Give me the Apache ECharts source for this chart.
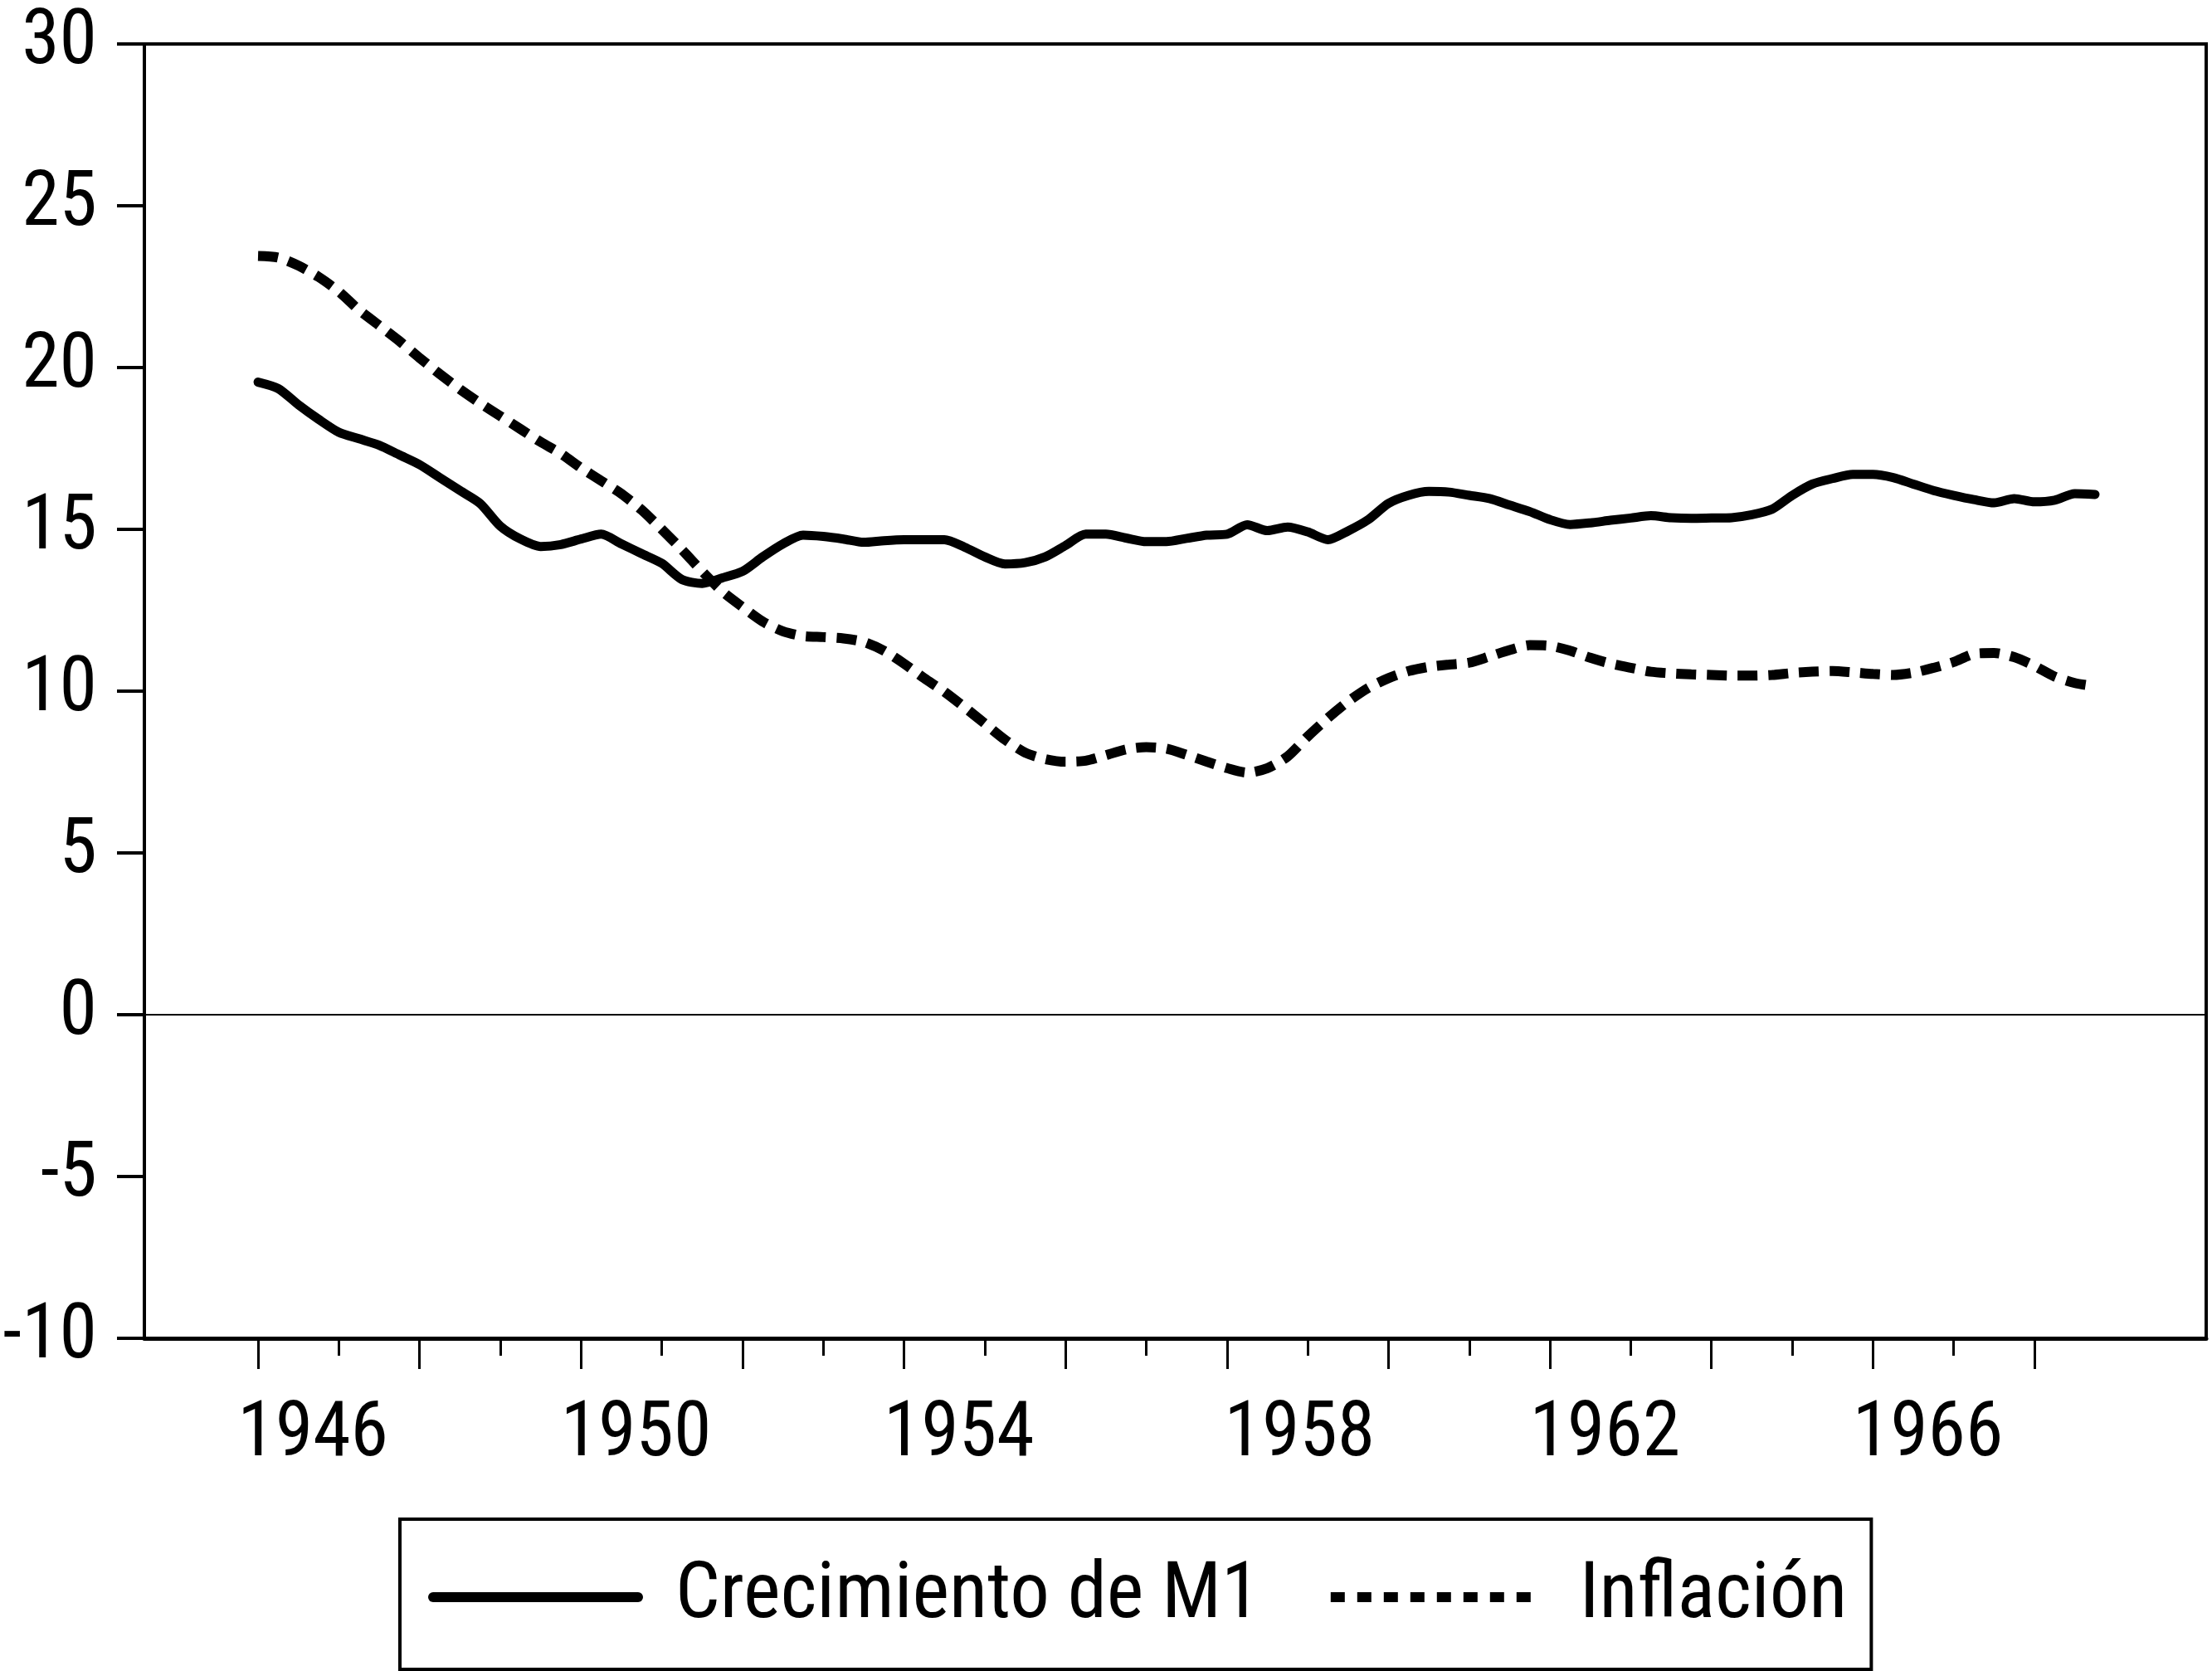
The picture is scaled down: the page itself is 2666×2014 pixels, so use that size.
<!DOCTYPE html>
<html>
<head>
<meta charset="utf-8">
<script src="https://cdn.jsdelivr.net/npm/echarts@6/dist/echarts.min.js"></script>
<style>
html,body{margin:0;padding:0;background:#ffffff;}
#chart{width:2666px;height:2014px;}
</style>
</head>
<body>
<div id="chart"></div>
<script>
// ---------- data (quarterly, 1946Q1 .. 1968Q4) ----------
const firstYear = 1946;
const lastYear = 1968;
const seriesNames = ['Crecimiento de M1', 'Inflación'];

const m1Growth = [
  19.55, 19.35, 18.85, 18.40,
  18.00, 17.80, 17.60, 17.30,
  17.00, 16.60, 16.20, 15.80,
  15.10, 14.70, 14.47, 14.53,
  14.70, 14.85, 14.55, 14.25,
  13.95, 13.45, 13.33, 13.50,
  13.70, 14.15, 14.55, 14.82,
  14.78, 14.70, 14.60, 14.65,
  14.68, 14.68, 14.68, 14.45,
  14.15, 13.93, 13.97, 14.15,
  14.50, 14.85, 14.85, 14.73,
  14.62, 14.62, 14.72, 14.82,
  14.85, 15.14, 14.96, 15.07,
  14.92, 14.68, 14.95, 15.30,
  15.80, 16.05, 16.17, 16.15,
  16.05, 15.95, 15.75, 15.55,
  15.30, 15.15, 15.20, 15.28,
  15.35, 15.42, 15.36, 15.34,
  15.35, 15.36, 15.45, 15.62,
  16.05, 16.40, 16.57, 16.70,
  16.70, 16.60, 16.40, 16.20,
  16.05, 15.92, 15.82, 15.95,
  15.85, 15.90, 16.10, 16.08
];

const inflation = [
  23.45, 23.40, 23.15, 22.80,
  22.35, 21.78, 21.30, 20.82,
  20.30, 19.80, 19.33, 18.90,
  18.50, 18.10, 17.70, 17.34,
  16.90, 16.50, 16.10, 15.60,
  15.00, 14.37, 13.70, 13.08,
  12.60, 12.15, 11.85, 11.70,
  11.67, 11.63, 11.52, 11.25,
  10.85, 10.40,  9.98,  9.50,
   9.00,  8.50,  8.10,  7.90,
   7.82,  7.85,  8.02,  8.20,
   8.27,  8.22,  8.03,  7.82,
   7.62,  7.48,  7.62,  7.98,
   8.60,  9.17,  9.68, 10.10,
  10.40, 10.62, 10.75, 10.82,
  10.88, 11.07, 11.27, 11.42,
  11.40, 11.25, 11.03, 10.85,
  10.72, 10.60, 10.55, 10.52,
  10.50, 10.48, 10.48, 10.50,
  10.56, 10.60, 10.62, 10.58,
  10.53, 10.50, 10.57, 10.72,
  10.90, 11.15, 11.18, 11.05,
  10.78, 10.45, 10.25, 10.15
];

const yMin = -10, yMax = 30, yStep = 5;
const labelYears = [1946, 1950, 1954, 1958, 1962, 1966];
const majorTickYears = [1946, 1948, 1950, 1952, 1954, 1956, 1958, 1960, 1962, 1964, 1966, 1968];
const minorTickYears = [1947, 1949, 1951, 1953, 1955, 1957, 1959, 1961, 1963, 1965, 1967];

// ---------- build ----------
const periods = [];
for (let y = firstYear; y <= lastYear; y++) for (let q = 1; q <= 4; q++) periods.push(y + 'Q' + q);
const periodToX = p => { const [y, q] = p.split('Q').map(Number); return y + (q - 1) / 4; };

const FONT = '"Roboto Condensed", "Liberation Sans Narrow", "Arial Narrow", sans-serif';
const X_MIN = 1944.592, X_MAX = 1970.127;
const LABEL_SHIFT = 0.68;
const labelPos = labelYears.map(y => y + LABEL_SHIFT + (y === 1958 ? 0.22 : 0));

const chart = echarts.init(document.getElementById('chart'), null, {renderer: 'canvas'});

const option = {
  animation: false,
  backgroundColor: '#ffffff',
  grid: {
    left: 174, right: 7, top: 53, bottom: 401,
    show: true, borderColor: '#000', borderWidth: 4, backgroundColor: 'transparent'
  },
  legend: {
    data: [
      {name: seriesNames[0], lineStyle: {width: 12, type: 'solid'},
       textStyle: {fontFamily: FONT, fontSize: 95, color: '#000', lineHeight: 100, padding: [0, 0, 0, 40]}},
      {name: seriesNames[1], lineStyle: {width: 12, type: [17, 15]},
       textStyle: {fontFamily: FONT, fontSize: 95, color: '#000', lineHeight: 100, padding: [0, 0, 0, 48]}}
    ],
    left: 482, top: 1831,
    padding: [44, 29, 37, 34],
    itemWidth: 247, itemHeight: 14, itemGap: 79,
    borderColor: '#000', borderWidth: 4,
    itemStyle: {opacity: 0},
    lineStyle: {width: 12},
    textStyle: {fontFamily: FONT, fontSize: 95, color: '#000', lineHeight: 100}
  },
  xAxis: [
    {
      type: 'value', min: X_MIN, max: X_MAX, position: 'bottom', offset: 0,
      splitLine: {show: false},
      axisLine: {show: true, onZero: false, lineStyle: {color: '#000', width: 5}},
      axisTick: {show: true, inside: false, length: 37, customValues: majorTickYears, lineStyle: {color: '#000', width: 3}},
      axisLabel: {
        show: true, customValues: labelPos, margin: 72,
        fontFamily: FONT, fontSize: 92, color: '#000',
        formatter: v => String(Math.floor(v + 1e-6))
      }
    },
    {
      type: 'value', min: X_MIN, max: X_MAX, position: 'bottom', offset: 0,
      splitLine: {show: false},
      axisLine: {show: false, onZero: false},
      axisTick: {show: true, inside: false, length: 21, customValues: minorTickYears, lineStyle: {color: '#000', width: 3}},
      axisLabel: {show: false}
    }
  ],
  yAxis: {
    type: 'value', min: yMin, max: yMax, interval: yStep,
    splitLine: {show: false},
    axisLine: {show: true, onZero: false, lineStyle: {color: '#000', width: 4}},
    axisTick: {show: true, inside: false, length: 33, lineStyle: {color: '#000', width: 4}},
    axisLabel: {margin: 57, fontFamily: FONT, fontSize: 92, color: '#000', padding: [0, 0, 14, 0]}
  },
  series: [
    {
      name: seriesNames[0], type: 'line', xAxisIndex: 0,
      data: periods.map((p, i) => [periodToX(p), m1Growth[i]]),
      symbol: 'none', showSymbol: false, smooth: 0.25,
      lineStyle: {color: '#000', width: 11, type: 'solid', cap: 'round', join: 'round'},
      itemStyle: {color: '#000'},
      markLine: {
        silent: true, symbol: ['none', 'none'], animation: false,
        label: {show: false},
        lineStyle: {color: '#000', width: 2, type: 'solid'},
        data: [{yAxis: 0}]
      },
      z: 3
    },
    {
      name: seriesNames[1], type: 'line', xAxisIndex: 0,
      data: periods.map((p, i) => [periodToX(p), inflation[i]]),
      symbol: 'none', showSymbol: false, smooth: 0.25,
      lineStyle: {color: '#000', width: 12, type: [24, 13], cap: 'butt'},
      itemStyle: {color: '#000'},
      z: 3
    }
  ]
};
chart.setOption(option);
</script>
</body>
</html>
